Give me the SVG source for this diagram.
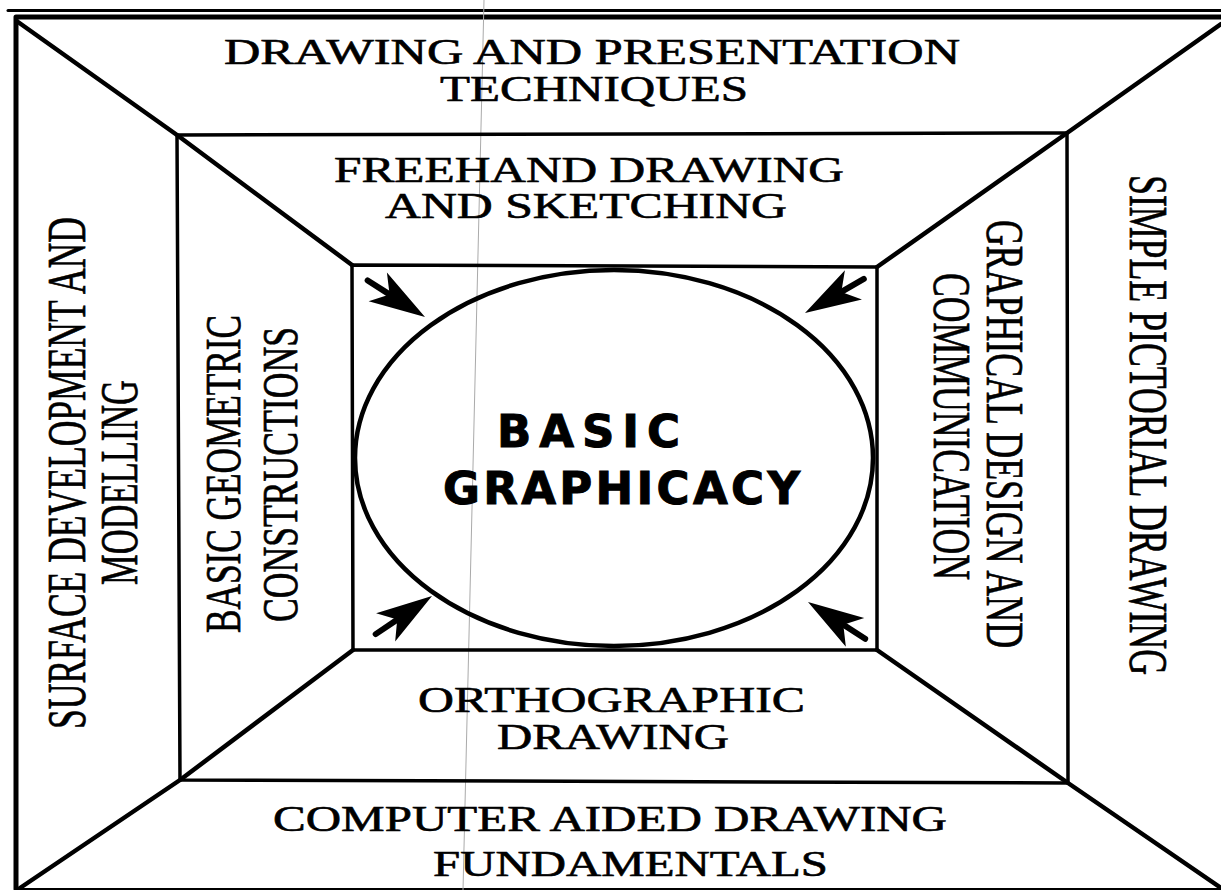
<svg xmlns="http://www.w3.org/2000/svg" xmlns:xlink="http://www.w3.org/1999/xlink" width="1221" height="890" viewBox="0 0 1221 890">
<style>
.ln{fill:none;stroke:#000;stroke-linejoin:round;stroke-linecap:round}
.h{font-family:"Liberation Serif","Times New Roman",serif;font-size:36px;fill:#000;stroke:#000;stroke-width:0.6}
.v{font-family:"Liberation Serif","Times New Roman",serif;fill:#000;stroke:#000;stroke-width:0.7}
.c{font-family:"DejaVu Sans",Verdana,sans-serif;font-weight:bold;font-size:45px;fill:#000;stroke:#000;stroke-width:1}
</style>
<defs>
<g id="arr">
<path d="M0,0 L-56,-17 L-42,0 L-56,17 Z" fill="#000"/>
<line x1="-44" y1="0" x2="-68" y2="0" stroke="#000" stroke-width="6" stroke-linecap="round"/>
</g>
</defs>
<rect width="1221" height="890" fill="#fff"/>
<g id="frame">
<line class="ln" x1="8" y1="10.5" x2="1221" y2="10.5" stroke-width="3"/>
<path class="ln" d="M16,889 V17 H1221" stroke-width="5"/>
<line class="ln" x1="16" y1="889" x2="1221" y2="889" stroke-width="2"/>
<line x1="484" y1="0" x2="463" y2="890" stroke="#aaa" stroke-width="1"/>
</g>
<g id="structure">
<polygon class="ln" points="177,135 1067,133 1068,783 180,780" stroke-width="3.5"/>
<polygon class="ln" points="352,265 877,267 877,650 353,650" stroke-width="3.5"/>
<polyline class="ln" points="18,22 177,135 352,265" stroke-width="4.5"/>
<polyline class="ln" points="1221,24 1067,133 877,267" stroke-width="4.5"/>
<polyline class="ln" points="20,888 180,780 353,650" stroke-width="4.5"/>
<polyline class="ln" points="1221,888 1068,783 877,650" stroke-width="4.5"/>
</g>
<g id="node-top">
<text class="h" x="224" y="64" textLength="736" lengthAdjust="spacingAndGlyphs">DRAWING AND PRESENTATION</text>
<text class="h" x="440" y="101" textLength="308" lengthAdjust="spacingAndGlyphs">TECHNIQUES</text>
</g>
<g id="node-freehand">
<text class="h" x="334" y="182" textLength="510" lengthAdjust="spacingAndGlyphs">FREEHAND DRAWING</text>
<text class="h" x="385" y="218" textLength="402" lengthAdjust="spacingAndGlyphs">AND SKETCHING</text>
</g>
<g id="node-orthographic">
<text class="h" x="418" y="712" textLength="387" lengthAdjust="spacingAndGlyphs">ORTHOGRAPHIC</text>
<text class="h" x="497" y="749" textLength="232" lengthAdjust="spacingAndGlyphs">DRAWING</text>
</g>
<g id="node-cad">
<text class="h" x="273" y="831" textLength="674" lengthAdjust="spacingAndGlyphs">COMPUTER AIDED DRAWING</text>
<text class="h" x="433" y="876" textLength="395" lengthAdjust="spacingAndGlyphs">FUNDAMENTALS</text>
</g>
<g id="node-surface">
<text class="v" font-size="54" transform="translate(85,729) rotate(-90)" textLength="512" lengthAdjust="spacingAndGlyphs">SURFACE DEVELOPMENT AND</text>
<text class="v" font-size="53" transform="translate(137,585) rotate(-90)" textLength="205" lengthAdjust="spacingAndGlyphs">MODELLING</text>
</g>
<g id="node-geometric">
<text class="v" font-size="50" transform="translate(240,633) rotate(-90)" textLength="318" lengthAdjust="spacingAndGlyphs">BASIC GEOMETRIC</text>
<text class="v" font-size="51" transform="translate(297,622) rotate(-90)" textLength="295" lengthAdjust="spacingAndGlyphs">CONSTRUCTIONS</text>
</g>
<g id="node-graphical">
<text class="v" font-size="53" transform="translate(987,220) rotate(90)" textLength="428" lengthAdjust="spacingAndGlyphs">GRAPHICAL DESIGN AND</text>
<text class="v" font-size="53" transform="translate(934,273) rotate(90)" textLength="307" lengthAdjust="spacingAndGlyphs">COMMUNICATION</text>
</g>
<g id="node-pictorial">
<text class="v" font-size="55" transform="translate(1130,175) rotate(90)" textLength="500" lengthAdjust="spacingAndGlyphs">SIMPLE PICTORIAL DRAWING</text>
</g>
<g id="node-center">
<ellipse class="ln" cx="614" cy="458" rx="259" ry="188" stroke-width="4.5"/>
<text class="c" x="497" y="447" textLength="183" lengthAdjust="spacing">BASIC</text>
<text class="c" x="443" y="504" textLength="357" lengthAdjust="spacing">GRAPHICACY</text>
</g>
<g id="connectors">
<use xlink:href="#arr" transform="translate(425,317) rotate(32.5)"/>
<use xlink:href="#arr" transform="translate(805,313) rotate(149.9)"/>
<use xlink:href="#arr" transform="translate(432,596) rotate(-34.1)"/>
<use xlink:href="#arr" transform="translate(808,602) rotate(-147.2)"/>
</g>
</svg>
